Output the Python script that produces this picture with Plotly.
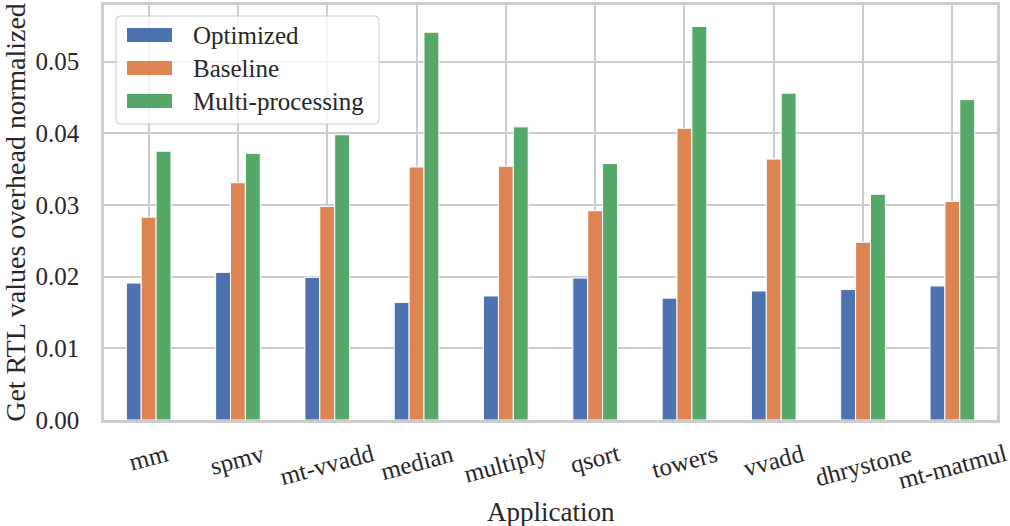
import plotly.graph_objects as go

categories = ["mm", "spmv", "mt-vvadd", "median", "multiply", "qsort",
              "towers", "vvadd", "dhrystone", "mt-matmul"]
optimized = [0.0191, 0.0206, 0.0199, 0.0164, 0.0173, 0.0198, 0.0170, 0.0180, 0.0182, 0.0187]
baseline = [0.0283, 0.0331, 0.0298, 0.0353, 0.0354, 0.0292, 0.0407, 0.0364, 0.0248, 0.0305]
multiproc = [0.0375, 0.0372, 0.0398, 0.0541, 0.0409, 0.0358, 0.0549, 0.0456, 0.0315, 0.0447]
series_names = ["Optimized", "Baseline", "Multi-processing"]
colors = ["#4C72B0", "#DD8452", "#55A868"]

FONT = "Liberation Serif, Times New Roman, serif"
TXT = "#262626"
L, T, R, B = 104, 5, 997, 420
PW, PH = R - L, B - T


def px(x):
    return (x - L) / PW


def py(y):
    return 1 - (y - T) / PH


fig = go.Figure()
for name, vals, c in zip(series_names, [optimized, baseline, multiproc], colors):
    fig.add_trace(go.Bar(x=categories, y=vals, name=name, marker_color=c,
                         marker_line_color="white", marker_line_width=1,
                         showlegend=False))

# custom legend (matplotlib-like), rounded box
bx0, bx1, by0, by1 = 116, 379, 16, 124
r = 4
path = (f"M {px(bx0 + r)},{py(by0)} L {px(bx1 - r)},{py(by0)} Q {px(bx1)},{py(by0)} {px(bx1)},{py(by0 + r)} "
        f"L {px(bx1)},{py(by1 - r)} Q {px(bx1)},{py(by1)} {px(bx1 - r)},{py(by1)} "
        f"L {px(bx0 + r)},{py(by1)} Q {px(bx0)},{py(by1)} {px(bx0)},{py(by1 - r)} "
        f"L {px(bx0)},{py(by0 + r)} Q {px(bx0)},{py(by0)} {px(bx0 + r)},{py(by0)} Z")
shapes = [dict(type="path", xref="paper", yref="paper", path=path,
               line=dict(color="#cccccc", width=1), fillcolor="rgba(255,255,255,0.8)",
               layer="above")]
annotations = []
for i, (name, c) in enumerate(zip(series_names, colors)):
    yc = 35 + i * 33
    shapes.append(dict(type="rect", xref="paper", yref="paper",
                       x0=px(127), x1=px(172), y0=py(yc + 7), y1=py(yc - 7),
                       fillcolor=c, line=dict(width=0), layer="above"))
    annotations.append(dict(xref="paper", yref="paper", x=px(191), y=py(yc),
                            text=name, showarrow=False, xanchor="left", yanchor="middle",
                            font=dict(family=FONT, size=25, color=TXT)))

# x tick labels (centered, rotated as in matplotlib)
for cat in categories:
    annotations.append(dict(x=cat, xref="x", y=0, yref="paper", yanchor="top", xanchor="center",
                            yshift=-17, textangle=-15, text=cat, showarrow=False,
                            font=dict(family=FONT, size=25, color=TXT)))
# x axis title
annotations.append(dict(x=0.5, xref="paper", y=0, yref="paper", yanchor="middle", xanchor="center",
                        yshift=-(512 - B), text="Application", showarrow=False,
                        font=dict(family=FONT, size=27, color=TXT)))

fig.update_layout(
    width=1010, height=526,
    margin=dict(l=L, r=1010 - R, t=T, b=526 - B),
    paper_bgcolor="white", plot_bgcolor="white",
    barmode="group", bargap=0.5, bargroupgap=0.0,
    font=dict(family=FONT, size=25, color=TXT),
    shapes=shapes, annotations=annotations,
    xaxis=dict(showticklabels=False, showgrid=True, gridcolor="#cccccc", gridwidth=2,
               showline=True, linecolor="#cccccc", linewidth=2.5, mirror=True,
               ticks="", range=[-0.5, 9.5], automargin=False),
    yaxis=dict(title=dict(text="Get RTL values overhead normalized", font=dict(size=28), standoff=10),
               range=[0, 0.0579], tickvals=[0, 0.01, 0.02, 0.03, 0.04, 0.05],
               tickformat=".2f", showgrid=True, gridcolor="#cccccc", gridwidth=2,
               zeroline=False, showline=True, linecolor="#cccccc", linewidth=2.5,
               mirror=True, ticks="", ticklabelstandoff=17, automargin=False),
)
fig.write_html("out.html", config={"displayModeBar": False},
               post_script="document.body.style.margin='0';document.body.style.padding='0';")
